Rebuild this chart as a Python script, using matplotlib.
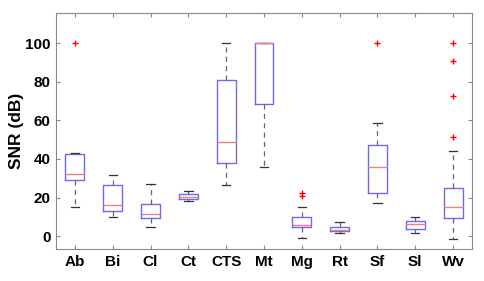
import matplotlib
matplotlib.use('Agg')
import matplotlib.pyplot as plt

labels = ['Ab', 'Bi', 'Cl', 'Ct', 'CTS', 'Mt', 'Mg', 'Rt', 'Sf', 'Sl', 'Wv']
whislo = [15.2, 10.0, 4.8, 18.0, 26.3, 35.8, -1.0, 1.4, 17.1, 1.4, -1.4]
q1 = [29.2, 13.1, 9.2, 19.0, 37.7, 68.3, 4.5, 2.4, 22.1, 3.8, 9.5]
med = [32.4, 15.9, 11.2, 20.1, 49.0, 100.0, 5.7, 3.3, 36.0, 6.1, 15.1]
q3 = [42.6, 26.3, 16.4, 22.0, 81.1, 100.0, 9.9, 4.5, 47.1, 8.0, 25.1]
whishi = [43.3, 31.5, 27.0, 23.5, 100.0, 100.0, 15.2, 7.1, 58.8, 9.9, 44.3]
fliers = [[100.0], [], [], [], [], [], [22.4, 20.8], [], [100.0], [], [100.0, 90.7, 72.5, 51.4]]

plt.rcParams['font.family'] = ['Liberation Sans', 'DejaVu Sans']
plt.rcParams['font.weight'] = 'bold'

stats = []
for i in range(len(labels)):
    stats.append(dict(label=labels[i], whislo=whislo[i], q1=q1[i], med=med[i],
                      q3=q3[i], whishi=whishi[i], fliers=fliers[i]))

fig = plt.figure(figsize=(4.85, 2.81), dpi=100)
ax = fig.add_axes([56/485, 1 - 249/281, 416/485, 236/281])

ax.bxp(stats, widths=0.5, capwidths=0.22,
       boxprops=dict(color='#6a6af5', linewidth=1.0),
       medianprops=dict(color='#f08080', linewidth=1.0),
       whiskerprops=dict(color='#666666', linestyle=(0, (4, 3.5)), linewidth=0.9),
       capprops=dict(color='#333333', linewidth=0.9),
       flierprops=dict(marker='+', markeredgecolor='red', markersize=4, linewidth=0.6))

ax.set_xlim(0.5, 11.5)
ax.set_ylim(-6.7, 115.7)
ax.set_yticks([0, 20, 40, 60, 80, 100])
ax.set_ylabel('SNR (dB)', fontsize=12.5, fontweight='bold', labelpad=1)
ax.tick_params(direction='in', length=3, color='#888888', top=True, right=True,
               labelsize=11, pad=4)
for lab in ax.get_xticklabels() + ax.get_yticklabels():
    lab.set_fontweight('bold')
for s in ax.spines.values():
    s.set_color('#888888')

fig.savefig('out.png', dpi=100)
